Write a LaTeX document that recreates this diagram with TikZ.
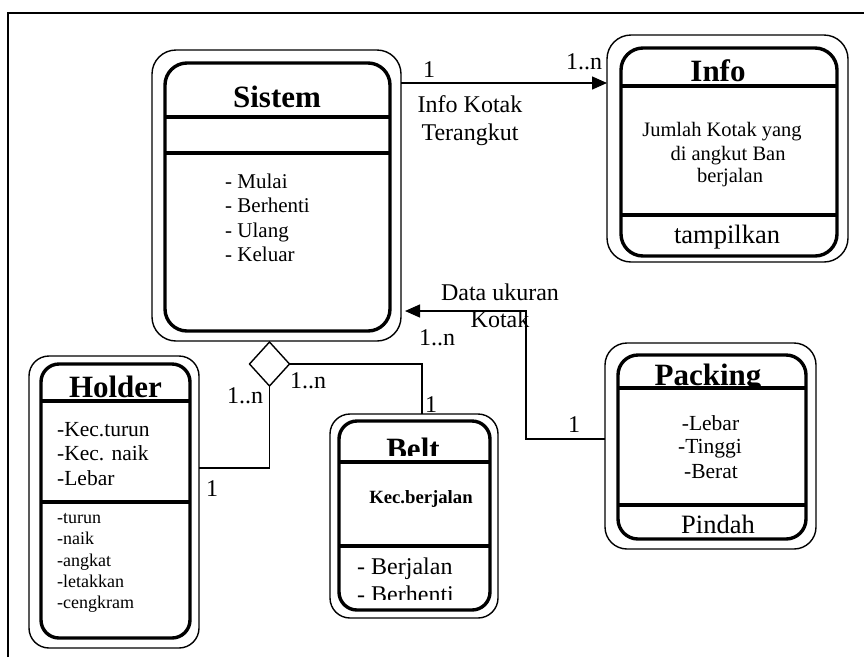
\documentclass[tikz,border=0pt]{standalone}
\usepackage{fontspec}
\setmainfont{Liberation Serif}
\usetikzlibrary{arrows.meta,shapes.geometric}
\newcommand\fsz[2]{\fontsize{#1}{#2}\selectfont}
\begin{document}
\begin{tikzpicture}[x=1pt,y=-1pt,
 outerbox/.style={draw, line width=1.4pt, rounded corners=24pt, inner sep=0pt, outer sep=0pt},
 innerbox/.style={draw, line width=3.4pt, rounded corners=22pt, inner sep=0pt, outer sep=0pt},
 divline/.style={line width=3.4pt},
 conn/.style={line width=1.4pt},
 tip/.style={-{Triangle[length=15pt,width=13pt]}},
 ttl/.style={font=\bfseries\fsz{31}{31}, inner sep=0pt, anchor=base},
 txt/.style={font=\fsz{21.5}{24}, inner sep=0pt, anchor=base},
 txtl/.style={font=\fsz{21}{24}, inner sep=0pt, anchor=base west},
 small/.style={font=\fsz{18}{21}, inner sep=0pt, anchor=base west},
 body/.style={font=\fsz{20.5}{22}, inner sep=0pt, anchor=base},
 big/.style={font=\fsz{26.5}{28}, inner sep=0pt, anchor=base},
 bigl/.style={font=\fsz{24}{26}, inner sep=0pt, anchor=base west},
 mult/.style={font=\fsz{24}{26}, inner sep=0pt, anchor=base}
]
\useasboundingbox (0,0) rectangle (864,657);

% frame
\coordinate (fr1) at (8,657);
\coordinate (fr2) at (8,13);
\coordinate (fr3) at (870,13);
\draw[line width=1.4pt] (fr1) -- (fr2) -- (fr3);

% Sistem
\node[outerbox, minimum width=249pt, minimum height=291pt] (sistem) at (276.5,195.5) {};
\node[innerbox, minimum width=225pt, minimum height=268pt] (sistemIn) at (277.5,197) {};
\draw[divline] (sistemIn.west |- 0,117) -- (sistemIn.east |- 0,117);
\draw[divline] (sistemIn.west |- 0,153) -- (sistemIn.east |- 0,153);
\node[ttl] (sistemT) at (277,107) {Sistem};
\node[txtl] (sm1) at (225,188) {- Mulai};
\node[txtl] (sm2) at (225,212.5) {- Berhenti};
\node[txtl] (sm3) at (225,237) {- Ulang};
\node[txtl] (sm4) at (225,261.5) {- Keluar};

% Info
\node[outerbox, minimum width=241pt, minimum height=227pt] (info) at (727.5,148.5) {};
\node[innerbox, minimum width=216pt, minimum height=208pt] (infoIn) at (729,152) {};
\draw[divline] (infoIn.west |- 0,86) -- (infoIn.east |- 0,86);
\draw[divline] (infoIn.west |- 0,215) -- (infoIn.east |- 0,215);
\node[ttl] (infoT) at (718,81.5) {Info};
\node[body] (ib1) at (722,136.5) {Jumlah Kotak yang};
\node[body] (ib2) at (728,160) {di angkut Ban};
\node[body] (ib3) at (730,182) {berjalan};
\node[big] (ib4) at (727,243) {tampilkan};

% Holder
\node[outerbox, rounded corners=20pt, minimum width=170pt, minimum height=292pt] (holder) at (114,502) {};
\node[innerbox, rounded corners=18pt, minimum width=149pt, minimum height=274pt] (holderIn) at (115.5,501) {};
\draw[divline] (holderIn.west |- 0,401) -- (holderIn.east |- 0,401);
\draw[divline] (holderIn.west |- 0,502) -- (holderIn.east |- 0,502);
\begin{scope}
\clip (41,364) rectangle (190,399);
\node[ttl] (holderT) at (115.5,397.5) {Holder};
\end{scope}
\node[txtl, font=\fsz{21.5}{24}] (ha1) at (57,436) {-Kec.turun};
\node[txtl, font=\fsz{21.5}{24}] (ha2) at (57,460) {-Kec. naik};
\node[txtl, font=\fsz{21.5}{24}] (ha3) at (57,485) {-Lebar};
\node[small] (hm1) at (57,523) {-turun};
\node[small] (hm2) at (57,544) {-naik};
\node[small] (hm3) at (57,566) {-angkat};
\node[small] (hm4) at (57,587) {-letakkan};
\node[small] (hm5) at (57,608) {-cengkram};

% Belt
\node[outerbox, rounded corners=20pt, minimum width=168pt, minimum height=204pt] (belt) at (414,516) {};
\node[innerbox, rounded corners=18pt, minimum width=151pt, minimum height=189pt] (beltIn) at (414.5,515.5) {};
\draw[divline] (beltIn.west |- 0,462) -- (beltIn.east |- 0,462);
\draw[divline] (beltIn.west |- 0,546) -- (beltIn.east |- 0,546);
\begin{scope}
\clip (339,421) rectangle (490,455);
\node[ttl] (beltT) at (413,459) {Belt};
\end{scope}
\node[font=\bfseries\fsz{18.7}{21}, inner sep=0pt, anchor=base] (ba1) at (421,503) {Kec.berjalan};
\node[bigl] (bm1) at (357,574) {- Berjalan};
\begin{scope}
\clip (339,546) rectangle (490,599);
\node[bigl] (bm2) at (357,602) {- Berhenti};
\end{scope}

% Packing
\node[outerbox, rounded corners=22pt, minimum width=211pt, minimum height=206pt] (packing) at (710.5,446) {};
\node[innerbox, rounded corners=20pt, minimum width=188pt, minimum height=184pt] (packingIn) at (712,447) {};
\draw[divline] (packingIn.west |- 0,388) -- (packingIn.east |- 0,388);
\draw[divline] (packingIn.west |- 0,505) -- (packingIn.east |- 0,505);
\begin{scope}
\clip (618,355) rectangle (806,386);
\node[ttl] (packingT) at (708,385.5) {Packing};
\end{scope}
\node[txt] (pa1) at (710.5,430) {-Lebar};
\node[txt] (pa2) at (710,453) {-Tinggi};
\node[txt] (pa3) at (711,478) {-Berat};
\node[big] (pm1) at (718,533) {Pindah};

% aggregation diamond
\node[diamond, draw, line width=1.4pt, minimum width=40pt, minimum height=44pt, inner sep=0pt, outer sep=0pt] (agg) at (269.5,364) {};

% connectors
\coordinate (c1) at (269.5,468);
\draw[conn] (holder.east |- c1) -- (c1) -- (agg.south);
\coordinate (c2) at (422,364);
\draw[conn] (agg.east) -- (c2) -- (c2 |- belt.north);

\coordinate (a1) at (0,83);
\draw[conn, tip] (sistem.east |- a1) -- (info.west |- a1);

\coordinate (b1) at (526,439);
\coordinate (b2) at (526,311);
\draw[conn, tip, shorten >=4pt] (packing.west |- b1) -- (b1) -- (b2) -- (sistem.east |- b2);

% connector labels
\node[mult] (l1) at (429,77) {1};
\node[mult] (l2) at (584,69) {1..n};
\node[mult] (l3) at (470,112) {Info Kotak};
\node[mult] (l4) at (470,140) {Terangkut};
\node[mult] (l5) at (245,403) {1..n};
\node[mult] (l6) at (212,496) {1};
\node[mult] (l7) at (308,388) {1..n};
\node[mult] (l8) at (431,412) {1};
\node[mult] (l9) at (574,432) {1};
\node[mult] (l10) at (437,345) {1..n};
\node[mult] (l11) at (500,300) {Data ukuran};
\node[mult] (l12) at (500,327) {Kotak};
\end{tikzpicture}
\end{document}
